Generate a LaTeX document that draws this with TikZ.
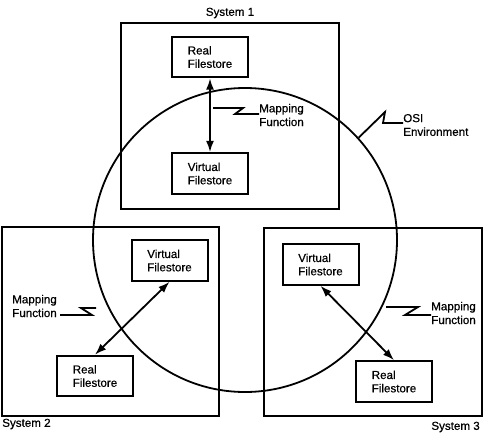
\documentclass[tikz,border=0pt]{standalone}
\usepackage{fontspec}
\setmainfont[FakeBold=0.6]{Liberation Sans}
\usetikzlibrary{arrows.meta}
\begin{document}
\begin{tikzpicture}[x=0.75pt,y=-0.75pt,
  ln/.style={line width=1.35pt},
  sysbox/.style={draw,line width=1.5pt},
  fsbox/.style={draw,line width=1.5pt,minimum width=57pt,minimum height=30.5pt,inner sep=0pt,align=left,font=\fontsize{8.7}{10}\selectfont},
  lbl/.style={inner sep=0pt,align=left,font=\fontsize{8.7}{10.3}\selectfont},
  dbl/.style={line width=1.35pt,{Latex[length=8.5pt,width=6pt]}-{Latex[length=8.5pt,width=6pt]}}]
\useasboundingbox (0,0) rectangle (488,446);
% system boxes
\draw[sysbox] (121,23) rectangle (339,209);
\draw[sysbox] (2,227) rectangle (219,416);
\draw[sysbox] (264,228) rectangle (482,416);
% OSI environment circle
\node[draw,circle,line width=1.35pt,minimum size=228pt,inner sep=0pt] (env) at (245,240) {};
% system labels
\node[lbl] (s1) at (230,13) {System 1};
\node[lbl,anchor=west] (s2) at (2,424) {System 2};
\node[lbl,anchor=east] (s3) at (480,427) {System 3};
% filestores
\node[fsbox] (r1) at (210,57) {Real\\Filestore};
\node[fsbox] (v1) at (210,173.5) {Virtual\\Filestore};
\node[fsbox] (v2) at (169.5,260.5) {Virtual\\Filestore};
\node[fsbox] (r2) at (95,376) {Real\\Filestore};
\node[fsbox] (v3) at (320.5,264.5) {Virtual\\Filestore};
\node[fsbox] (r3) at (394,381.5) {Real\\Filestore};
% mapping arrows
\draw[dbl] (r1.south) -- (v1.north);
\draw[dbl] (r2.north) -- (v2.south);
\draw[dbl] (v3.south) -- (r3.north);
% mapping labels
\node[lbl,anchor=west] (m1) at (259,115) {Mapping\\Function};
\node[lbl,anchor=west] (m2) at (12,306) {Mapping\\Function};
\node[lbl,anchor=west] (m3) at (431,313) {Mapping\\Function};
\node[lbl,anchor=west] (osi) at (403,125) {OSI\\Environment};
% zigzag leaders
\coordinate (z1) at (213,108);
\coordinate (z2) at (60,315);
\coordinate (z3) at (386,307);
\draw[ln] (z1) -- (243,108) -- (235,114) -- (m1.west |- 0,114);
\draw[ln] (z2) -- (92,315) -- (81,308) -- (96,308);
\draw[ln] (z3) -- (418,307) -- (405,315) -- (m3.west |- 0,315);
\draw[ln] (env.42) -- (385,112) -- (383,123) -- (osi.west |- 0,123);
\end{tikzpicture}
\end{document}
